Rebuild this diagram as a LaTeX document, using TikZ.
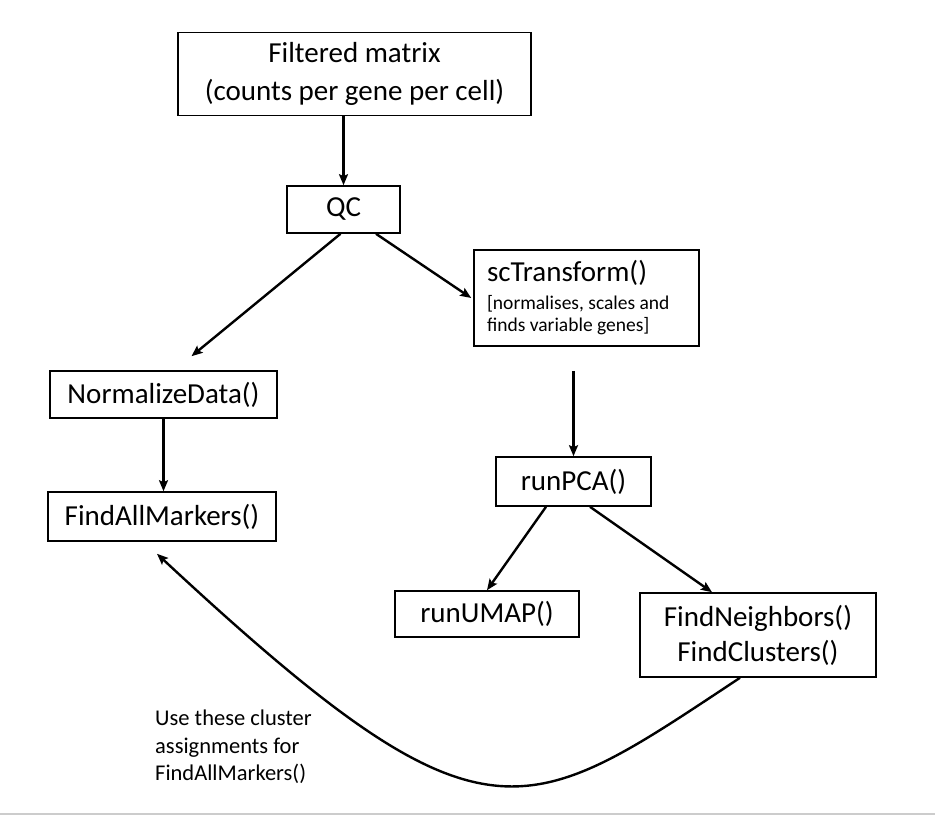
\documentclass[tikz,border=0pt]{standalone}
\usepackage{fontspec}
\setmainfont{Carlito}
\usetikzlibrary{arrows.meta,calc}
\tikzset{
  box/.style={draw=black, line width=1.6pt, rectangle, inner sep=0pt, align=center,
    font=\fontsize{29}{35}\selectfont},
  arr/.style={line width=2.4pt, -{Stealth[length=11pt,width=9pt,inset=2pt]}},
  note/.style={align=left, anchor=west, inner sep=0pt, font=\fontsize{22.5}{27.5}\selectfont},
}
\begin{document}
\begin{tikzpicture}[x=1pt,y=-1pt]
\useasboundingbox (0,0) rectangle (935,816);
\fill[white] (0,0) rectangle (935,816);
\node[box, minimum width=353pt, minimum height=83pt] (fm) at (354.5,74) {Filtered matrix\\[3pt](counts per gene per cell)};
\node[box, minimum width=113pt, minimum height=47pt] (qc) at (343.5,209.5) {QC};
\node[box, minimum width=225pt, minimum height=96pt] (sct) at (586.5,298)
  {\parbox{199pt}{\raggedright\fontsize{29}{35}\selectfont scTransform()\par\vspace{6pt}%
   \fontsize{19.5}{22}\selectfont [normalises, scales and\\finds variable genes]\par}};
\node[box, minimum width=227pt, minimum height=47pt] (nd) at (163.5,394.5) {NormalizeData()};
\node[box, minimum width=228pt, minimum height=49pt] (fam) at (162,516.5) {FindAllMarkers()};
\node[box, minimum width=155pt, minimum height=49pt] (pca) at (573.5,481.5) {runPCA()};
\node[box, minimum width=184pt, minimum height=46pt] (umap) at (487,614) {runUMAP()};
\node[box, minimum width=236pt, minimum height=84pt] (fn) at (758,635) {FindNeighbors()\\FindClusters()};
\node[note] (lbl) at (155,747) {Use these cluster\\assignments for\\FindAllMarkers()};

\coordinate (s1) at ($(pca.north |- sct.south)+(0,24)$);
\draw[arr] (qc.north |- fm.south) -- (qc.north);
\draw[arr] ([xshift=-3pt]qc.south) -- ([xshift=28pt,yshift=14pt]nd.north);
\draw[arr] ([xshift=32.5pt]qc.south) -- ([xshift=-2pt]sct.west);
\draw[arr] (s1) -- (pca.north);
\draw[arr] (nd.south) -- (nd.south |- fam.north);
\draw[arr] ([xshift=-27.5pt]pca.south) -- (umap.north);
\draw[arr] ([xshift=16.5pt]pca.south) -- ([xshift=-46pt]fn.north);
\draw[arr] ([xshift=-18pt]fn.south) .. controls (522,822) and (485,859) .. ([xshift=-5pt,yshift=-12pt]fam.south);

\draw[black!20, line width=1.5pt] (0,814) -- (935,814);
\end{tikzpicture}
\end{document}
